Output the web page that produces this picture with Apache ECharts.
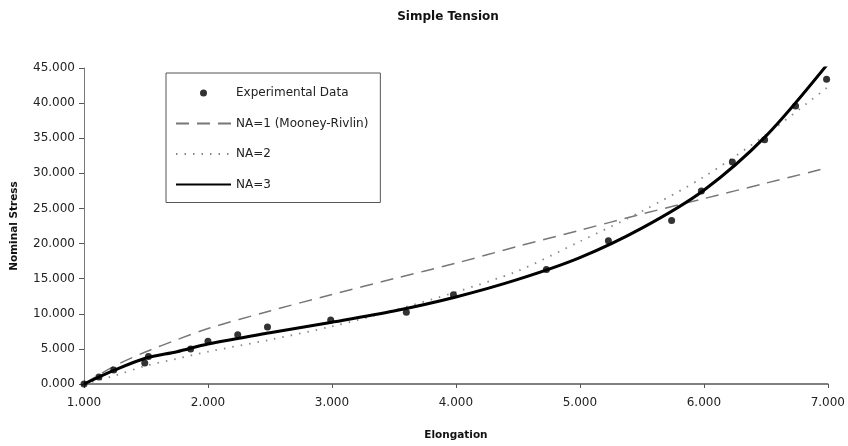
<!DOCTYPE html>
<html>
<head>
<meta charset="utf-8">
<script src="https://cdn.jsdelivr.net/npm/echarts@6/dist/echarts.min.js"></script>
<style>html,body{margin:0;padding:0;background:#fff}#c{width:848px;height:446px}</style>
</head>
<body>
<div id="c"></div>
<script>
var expX = [1.0, 1.12, 1.24, 1.49, 1.52, 1.86, 2.0, 2.24, 2.48, 2.99, 3.6, 3.98, 4.73, 5.23, 5.74, 5.98, 6.23, 6.49, 6.74, 6.99];
var expY = [0, 1.0, 2.0, 3.0, 3.9, 5.0, 6.1, 7.0, 8.1, 9.1, 10.2, 12.7, 16.3, 20.4, 23.3, 27.5, 31.6, 34.8, 39.6, 43.4];
var curveX = [1.0, 1.25, 1.5, 1.75, 2.0, 2.5, 3.0, 3.5, 4.0, 4.5, 5.0, 5.5, 6.0, 6.5, 7.0];
var na1Y = [0, 2.6, 4.6, 6.3, 7.9, 10.4, 12.75, 15.0, 17.2, 19.6, 21.9, 24.2, 26.4, 28.6, 30.8];
var na2Y = [0, 1.2, 2.6, 3.6, 4.6, 6.3, 8.2, 10.5, 13.1, 16.1, 20.3, 24.6, 29.5, 35.5, 42.3];
var na3Y = [0, 2.0, 3.7, 4.6, 5.7, 7.3, 8.8, 10.4, 12.4, 14.9, 18.0, 22.2, 27.6, 35.3, 45.6];
var seriesNames = ['Experimental Data', 'NA=1 (Mooney-Rivlin)', 'NA=2', 'NA=3'];

function pairs(xs, ys) { return xs.map(function (x, i) { return [x, ys[i]]; }); }
var FONT = 'DejaVu Sans';
var hidden = { opacity: 0, borderWidth: 0 };
var chart = echarts.init(document.getElementById('c'));
chart.setOption({
  animation: false,
  backgroundColor: '#fff',
  color: ['#000', '#777', '#888', '#000'],
  title: {
    text: 'Simple Tension', left: 443, top: 6, textAlign: 'center',
    textStyle: { fontFamily: FONT, fontSize: 12, fontWeight: 'bold', color: '#111' }
  },
  grid: { left: 84, right: 13, top: 68, bottom: 55 },
  legend: {
    orient: 'vertical', left: 166, top: 73, padding: [14, 12, 12, 9],
    borderColor: '#555', borderWidth: 1,
    itemWidth: 55, itemHeight: 7, itemGap: 18.5,
    textStyle: { fontFamily: FONT, fontSize: 12, color: '#222' },
    data: [
      { name: seriesNames[0], icon: 'circle' },
      { name: seriesNames[1], itemStyle: hidden },
      { name: seriesNames[2], itemStyle: hidden },
      { name: seriesNames[3], itemStyle: hidden }
    ]
  },
  xAxis: {
    type: 'value', min: 1, max: 7, interval: 1,
    name: 'Elongation', nameLocation: 'middle', nameGap: 46,
    nameTextStyle: { fontFamily: FONT, fontSize: 10.5, fontWeight: 'bold', color: '#111' },
    axisLine: { lineStyle: { color: '#555', width: 1.5 } },
    axisTick: { length: 4, lineStyle: { color: '#555' } },
    axisLabel: { fontFamily: FONT, fontSize: 12, color: '#222', margin: 13,
      formatter: function (v) { return v.toFixed(3); } },
    splitLine: { show: false }
  },
  yAxis: {
    type: 'value', min: 0, max: 45, interval: 5,
    name: 'Nominal Stress', nameLocation: 'middle', nameGap: 64, nameRotate: 90,
    nameTextStyle: { fontFamily: FONT, fontSize: 10.5, fontWeight: 'bold', color: '#111' },
    axisLine: { show: true, lineStyle: { color: '#777', width: 1 } },
    axisTick: { show: true, length: 5, lineStyle: { color: '#555' } },
    axisLabel: { fontFamily: FONT, fontSize: 12, color: '#222', margin: 9,
      formatter: function (v) { return v.toFixed(3); } },
    splitLine: { show: false }
  },
  series: [
    { name: seriesNames[0], type: 'scatter', data: pairs(expX, expY), symbol: 'circle', symbolSize: 7,
      itemStyle: { color: '#000' }, z: 5 },
    { name: seriesNames[1], type: 'line', data: pairs(curveX, na1Y), smooth: 0.3, symbol: 'none',
      itemStyle: { color: '#777' },
      lineStyle: { color: '#777', width: 1.5, type: [13, 8] } },
    { name: seriesNames[2], type: 'line', data: pairs(curveX, na2Y), smooth: 0.3, symbol: 'none',
      itemStyle: { color: '#888' },
      lineStyle: { color: '#888', width: 1.8, type: [1.5, 7] } },
    { name: seriesNames[3], type: 'line', data: pairs(curveX, na3Y), smooth: 0.3, symbol: 'none',
      itemStyle: { color: '#000' },
      lineStyle: { color: '#000', width: 3 } }
  ]
});
</script>
</body>
</html>
